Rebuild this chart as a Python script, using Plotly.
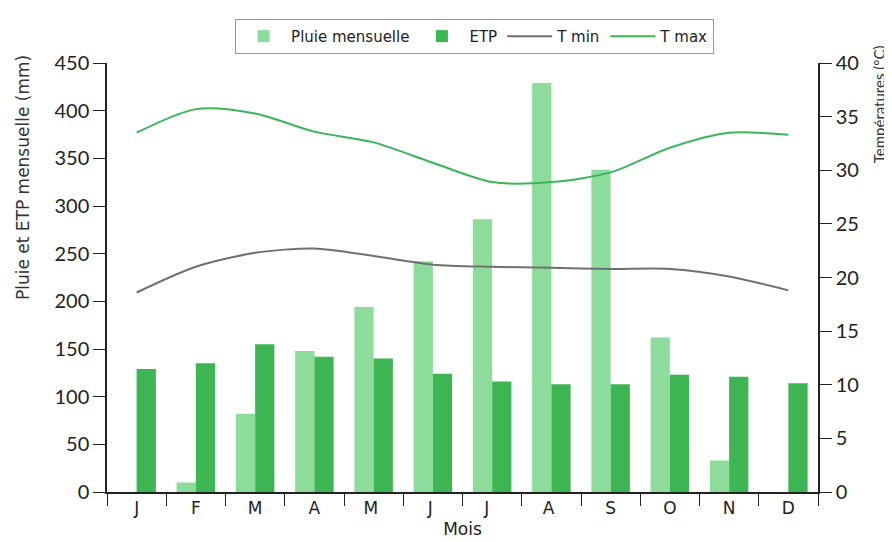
import plotly.graph_objects as go

months = ["J", "F", "M", "A", "M ", "J ", "J  ", "A ", "S", "O", "N", "D"]
pluie = [0, 10, 82, 148, 194, 242, 286, 429, 338, 162, 33, 0]
etp = [129, 135, 155, 142, 140, 124, 116, 113, 113, 123, 121, 114]
tmin = [18.6, 21.0, 22.3, 22.7, 22.0, 21.2, 21.0, 20.9, 20.8, 20.8, 20.1, 18.8]
tmax = [33.5, 35.7, 35.3, 33.6, 32.6, 30.7, 28.9, 28.9, 29.8, 32.1, 33.5, 33.3]

FONT = "Lato"
TFONT = "DejaVu Sans"
fig = go.Figure()
fig.add_trace(go.Bar(x=months, y=pluie, name="Pluie mensuelle",
                     marker=dict(color="#8edc9c", line=dict(width=0))))
fig.add_trace(go.Bar(x=months, y=etp, name="ETP",
                     marker=dict(color="#3db553", line=dict(width=0))))
fig.add_trace(go.Scatter(x=months, y=tmin, name="T min", mode="lines", yaxis="y2",
                         line=dict(color="#707070", width=2, shape="spline", smoothing=0.8)))
fig.add_trace(go.Scatter(x=months, y=tmax, name="T max", mode="lines", yaxis="y2",
                         line=dict(color="#3cb45a", width=2, shape="spline", smoothing=0.8)))

fig.update_layout(
    width=884, height=534,
    margin=dict(l=99, r=74, t=55, b=50, autoexpand=False),
    paper_bgcolor="white", plot_bgcolor="white",
    font=dict(family=FONT, color="#222", size=17),
    barmode="group", bargap=0.35, bargroupgap=0,
    showlegend=True,
    legend=dict(orientation="h", x=0.517, xanchor="center", y=1.062, yanchor="middle",
                bordercolor="#5cbf6a", borderwidth=1, bgcolor="white",
                font=dict(family=TFONT, size=15, color="#222"), itemwidth=45,
                traceorder="normal"),
    xaxis=dict(type="category", range=[-0.5, 11.5], tickson="boundaries",
               ticks="outside", ticklen=12, tickcolor="#222", showline=True,
               linecolor="#222", linewidth=1.5, showgrid=False, automargin=False,
               tickfont=dict(family=TFONT, size=17, color="#222"),
               title=dict(text="Mois", font=dict(family=TFONT, size=17, color="#222"),
                          standoff=6)),
    yaxis=dict(range=[0, 450], dtick=50, ticks="outside", ticklen=12, tickcolor="#222",
               showline=True, linecolor="#222", linewidth=1.5, showgrid=False,
               zeroline=False, tickfont=dict(size=20, color="#222"), automargin=False),
    yaxis2=dict(range=[0, 40], dtick=5, overlaying="y", side="right", ticks="outside",
                ticklen=12, tickcolor="#222", showline=True, linecolor="#222",
                linewidth=1.5, showgrid=False, zeroline=False, automargin=False,
                tickfont=dict(size=20, color="#222")),
    annotations=[
        dict(text="Pluie et ETP mensuelle (mm)", textangle=-90, xref="paper", yref="paper",
             x=-0.118, y=0.732, xanchor="center", yanchor="middle", showarrow=False,
             font=dict(family=TFONT, size=17, color="#333")),
        dict(text="Températures (°C)", textangle=-90, xref="paper", yref="paper",
             x=1.085, y=0.905, xanchor="center", yanchor="middle", showarrow=False,
             font=dict(family=FONT, size=15, color="#333")),
    ],
)
fig.write_html("out.html")
